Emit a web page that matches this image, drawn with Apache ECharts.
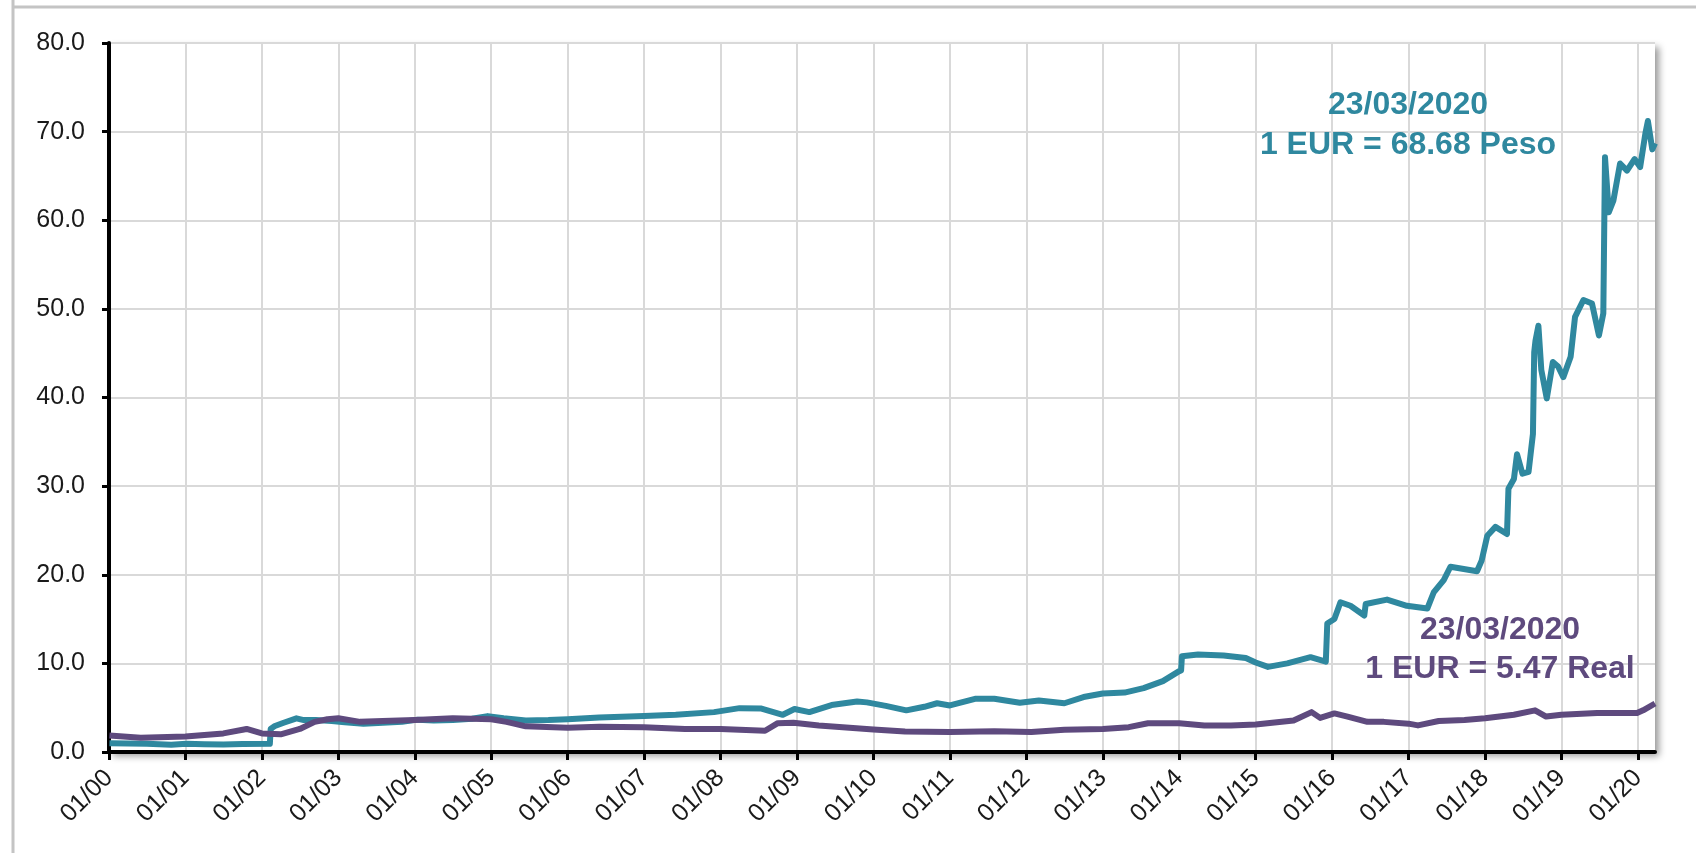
<!DOCTYPE html>
<html>
<head>
<meta charset="utf-8">
<script src="https://cdn.jsdelivr.net/npm/echarts@6/dist/echarts.min.js"></script>
<style>
html,body{margin:0;padding:0;background:#fff;}
#chart{width:1696px;height:853px;}
</style>
</head>
<body>
<div id="chart"></div>
<script>
// ---- data ----
var pesoDates = ['2000-01-03','2000-04-01','2000-07-01','2000-10-25','2001-01-05','2001-04-01','2001-07-01','2001-10-01','2002-02-08','2002-02-12','2002-03-01','2002-04-15','2002-06-15','2002-07-20','2002-09-15','2002-12-01','2003-02-01','2003-05-01','2003-08-01','2003-11-01','2004-01-15','2004-04-01','2004-07-01','2004-10-01','2004-12-15','2005-03-01','2005-06-15','2005-10-01','2006-01-01','2006-06-01','2007-01-01','2007-06-01','2007-12-01','2008-04-01','2008-07-15','2008-10-25','2008-12-20','2009-03-01','2009-06-15','2009-10-15','2009-12-01','2010-03-01','2010-06-07','2010-09-01','2010-11-01','2011-01-01','2011-05-01','2011-08-01','2011-12-01','2012-03-01','2012-07-01','2012-10-01','2013-01-01','2013-04-15','2013-07-15','2013-10-15','2013-12-30','2014-01-10','2014-01-14','2014-04-01','2014-08-01','2014-11-15','2015-01-01','2015-03-01','2015-06-01','2015-09-20','2015-12-02','2015-12-09','2016-01-12','2016-02-10','2016-03-29','2016-06-03','2016-06-10','2016-09-20','2016-12-24','2017-04-01','2017-05-01','2017-06-18','2017-07-20','2017-11-24','2017-12-16','2018-01-12','2018-02-20','2018-04-16','2018-04-23','2018-05-19','2018-06-03','2018-06-29','2018-07-28','2018-08-18','2018-08-24','2018-08-30','2018-09-13','2018-09-27','2018-10-23','2018-11-21','2018-12-16','2019-01-10','2019-02-14','2019-03-07','2019-04-16','2019-05-27','2019-06-29','2019-07-20','2019-07-28','2019-08-15','2019-09-06','2019-10-08','2019-11-10','2019-12-16','2020-01-12','2020-02-06','2020-02-18','2020-03-10','2020-03-23'];
var pesoValues = [1.00,0.95,0.92,0.83,0.93,0.88,0.86,0.91,0.92,2.6,2.9,3.3,3.8,3.6,3.6,3.5,3.35,3.2,3.3,3.4,3.65,3.55,3.6,3.75,4.05,3.8,3.55,3.6,3.7,3.9,4.05,4.2,4.5,4.95,4.9,4.2,4.85,4.5,5.3,5.7,5.6,5.2,4.7,5.1,5.5,5.25,6.0,6.0,5.55,5.8,5.5,6.2,6.6,6.7,7.2,8.0,9.1,9.2,10.8,11.0,10.9,10.6,10.1,9.6,10.0,10.7,10.2,14.5,15.0,16.9,16.5,15.4,16.7,17.2,16.5,16.2,18.0,19.4,20.9,20.4,21.6,24.4,25.4,24.6,29.7,30.8,33.6,31.4,31.6,35.9,45.1,46.4,48.1,43.1,39.9,44.0,43.5,42.3,44.6,49.1,51.0,50.6,47.0,49.5,67.1,60.9,62.2,66.4,65.6,66.9,66.0,69.8,71.2,68.0,68.68];

var realDates = ['2000-01-03','2000-06-01','2001-01-01','2001-07-01','2001-10-20','2002-01-01','2002-04-01','2002-07-01','2002-09-10','2002-11-10','2003-01-01','2003-04-15','2003-08-01','2004-01-01','2004-07-01','2005-01-01','2005-03-15','2005-06-15','2006-01-01','2006-06-01','2007-01-01','2007-07-15','2008-01-01','2008-08-01','2008-10-01','2008-12-15','2009-04-15','2010-01-01','2010-06-01','2011-01-01','2011-08-01','2012-01-25','2012-07-01','2013-01-01','2013-05-05','2013-08-05','2014-01-01','2014-05-01','2014-09-05','2015-01-01','2015-07-01','2015-09-25','2015-11-05','2016-01-12','2016-03-15','2016-06-18','2016-09-05','2017-01-01','2017-02-15','2017-05-25','2017-09-25','2018-01-01','2018-05-19','2018-08-28','2018-10-20','2019-01-01','2019-06-20','2019-12-28','2020-01-26','2020-03-23'];
var realValues = [1.85,1.6,1.75,2.1,2.6,2.1,2.0,2.6,3.4,3.7,3.8,3.4,3.5,3.6,3.8,3.7,3.4,2.9,2.75,2.85,2.8,2.6,2.6,2.4,3.25,3.3,3.0,2.55,2.3,2.25,2.35,2.25,2.5,2.6,2.8,3.25,3.25,3.0,3.0,3.1,3.55,4.5,3.85,4.35,4.0,3.4,3.4,3.2,3.0,3.5,3.6,3.8,4.2,4.7,4.0,4.2,4.4,4.4,4.7,5.47];

var xTickYears = [2000,2001,2002,2003,2004,2005,2006,2007,2008,2009,2010,2011,2012,2013,2014,2015,2016,2017,2018,2019,2020];
var xTickLabels = ['01/00','01/01','01/02','01/03','01/04','01/05','01/06','01/07','01/08','01/09','01/10','01/11','01/12','01/13','01/14','01/15','01/16','01/17','01/18','01/19','01/20'];
var yTicks = [0,10,20,30,40,50,60,70,80];

var pesoNote = ['23/03/2020','1 EUR = 68.68 Peso'];
var realNote = ['23/03/2020','1 EUR = 5.47 Real'];

var pesoColor = '#2f889f';
var realColor = '#5e4a7e';

// date string -> decimal year
function decYear(s){
  var p = s.split('-'); var y = +p[0];
  var start = Date.UTC(y,0,1), end = Date.UTC(y+1,0,1);
  var d = Date.UTC(y, +p[1]-1, +p[2]);
  return y + (d-start)/(end-start);
}
function pairs(dates, vals){ return dates.map(function(d,i){ return [decYear(d), vals[i]]; }); }

var xMax = decYear(pesoDates[pesoDates.length-1]);
var font = "'Liberation Sans', Arial, sans-serif";
var noteFont = "bold 32px 'Liberation Sans', Arial, sans-serif";

var chart = echarts.init(document.getElementById('chart'));
chart.setOption({
  animation:false,
  backgroundColor:'#fff',
  grid:{left:109, right:41, top:43, bottom:101, show:true, backgroundColor:'#fff', borderWidth:0,
        shadowColor:'rgba(0,0,0,0.4)', shadowBlur:7, shadowOffsetX:4, shadowOffsetY:4},
  xAxis:{
    type:'value', min:xTickYears[0], max:xMax, interval:1,
    axisLine:{show:true, onZero:false, lineStyle:{color:'#000', width:4}},
    axisTick:{show:true, length:8, lineStyle:{color:'#000', width:3}, customValues:xTickYears},
    axisLabel:{rotate:45, margin:22, fontFamily:font, fontSize:25, color:'#1a1a1a', customValues:xTickYears,
      formatter:function(v){ var i = xTickYears.indexOf(Math.round(v)); return i>=0 ? xTickLabels[i] : ''; }},
    splitLine:{show:true, lineStyle:{color:'#d9d9d9', width:2}}
  },
  yAxis:{
    type:'value', min:yTicks[0], max:yTicks[yTicks.length-1], interval:10,
    axisLine:{show:true, lineStyle:{color:'#000', width:4}},
    axisTick:{show:true, length:7, lineStyle:{color:'#000', width:3}},
    axisLabel:{margin:24, fontFamily:font, fontSize:25, color:'#1a1a1a', formatter:function(v){ return v.toFixed(1); }},
    splitLine:{show:true, lineStyle:{color:'#d9d9d9', width:2}}
  },
  series:[
    {name:'Peso', type:'line', data:pairs(pesoDates,pesoValues), showSymbol:false, symbol:'none',
     lineStyle:{color:pesoColor, width:6, join:'round'}, itemStyle:{color:pesoColor}, z:2},
    {name:'Real', type:'line', data:pairs(realDates,realValues), showSymbol:false, symbol:'none',
     lineStyle:{color:realColor, width:6, join:'round'}, itemStyle:{color:realColor}, z:3}
  ],
  graphic:[
    {type:'line', shape:{x1:13, y1:0, x2:13, y2:853}, style:{stroke:'#c4c4c4', lineWidth:3}, silent:true},
    {type:'line', shape:{x1:13, y1:7, x2:1696, y2:7}, style:{stroke:'#c4c4c4', lineWidth:3}, silent:true},
    {type:'text', x:1408, y:105, style:{text:pesoNote[0], fill:pesoColor, font:noteFont, textAlign:'center', textVerticalAlign:'middle'}, z:10},
    {type:'text', x:1408, y:145, style:{text:pesoNote[1], fill:pesoColor, font:noteFont, textAlign:'center', textVerticalAlign:'middle'}, z:10},
    {type:'text', x:1500, y:630, style:{text:realNote[0], fill:realColor, font:noteFont, textAlign:'center', textVerticalAlign:'middle'}, z:10},
    {type:'text', x:1500, y:669, style:{text:realNote[1], fill:realColor, font:noteFont, textAlign:'center', textVerticalAlign:'middle'}, z:10}
  ]
});
</script>
</body>
</html>
